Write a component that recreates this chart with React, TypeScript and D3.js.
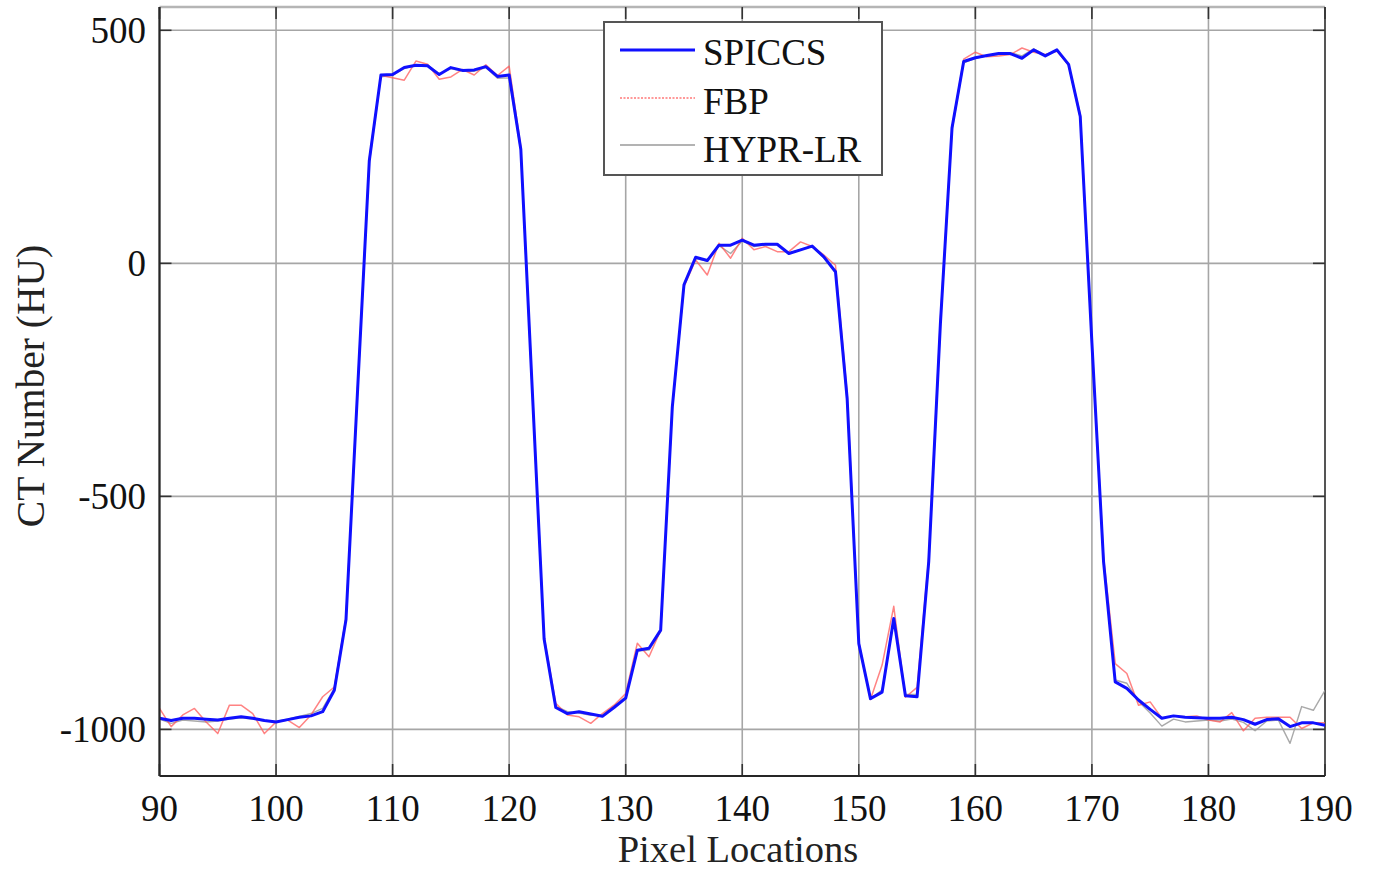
import React from "react";
import * as d3 from "d3";

const xStart = 90;
const spiccs = [
  -976, -981, -976, -976, -978, -980, -976, -973, -976, -981,
  -984, -979, -974, -971, -962, -916, -765, -270, 220, 404,
  405, 420, 425, 424, 405, 420, 414, 415, 422, 401,
  404, 245, -280, -806, -953, -966, -962, -967, -972, -953,
  -933, -830, -826, -787, -308, -46, 13, 6, 39, 39,
  50, 39, 41, 41, 21, 29, 37, 14, -18, -290,
  -816, -934, -920, -762, -928, -930, -640, -130, 291, 433,
  441, 446, 450, 450, 440, 458, 445, 458, 427, 315,
  -170, -640, -898, -912, -937, -957, -976, -971, -974, -975,
  -976, -976, -974, -979, -989, -979, -977, -994, -986, -986,
  -991,
];
const fbp = [
  -955, -994, -969, -955, -984, -1009, -948, -948, -966, -1009,
  -984, -980, -996, -969, -930, -909, -760, -265, 225, 403,
  398, 393, 434, 427, 395, 400, 416, 404, 426, 403,
  423, 250, -275, -801, -944, -969, -973, -987, -966, -948,
  -923, -815, -844, -787, -308, -50, 7, -25, 43, 11,
  54, 29, 36, 25, 25, 46, 36, 18, -4, -279,
  -812, -936, -862, -736, -931, -910, -631, -120, 291, 438,
  453, 443, 445, 448, 462, 453, 448, 455, 426, 320,
  -167, -631, -859, -880, -948, -941, -976, -971, -973, -971,
  -980, -984, -964, -1003, -976, -974, -974, -974, -998, -986,
  -986,
];
const hyprlr = [
  -978, -987, -980, -982, -984, -982, -978, -975, -978, -982,
  -983, -978, -972, -966, -955, -912, -760, -275, 215, 400,
  403, 418, 426, 425, 407, 418, 412, 412, 420, 397,
  398, 240, -285, -810, -950, -962, -965, -970, -970, -950,
  -930, -832, -830, -790, -310, -48, 10, 5, 38, 21,
  48, 36, 40, 40, 22, 30, 36, 12, -20, -295,
  -820, -935, -915, -765, -925, -925, -645, -135, 285, 430,
  440, 445, 448, 452, 445, 460, 447, 457, 425, 312,
  -175, -645, -894, -901, -940, -965, -993, -978, -984, -982,
  -980, -982, -978, -985, -1003, -982, -980, -1030, -951, -959,
  -916,
];
const xTicks = [90, 100, 110, 120, 130, 140, 150, 160, 170, 180, 190];
const yTicks = [-1000, -500, 0, 500];
const seriesNames = ["SPICCS", "FBP", "HYPR-LR"];

const W = 1375;
const H = 871;
const L = 159.5;
const R = 1325;
const T = 7;
const B = 776;
const FONT = "'Liberation Serif', 'Times New Roman', serif";

export default function App() {
  const x = d3.scaleLinear().domain([90, 190]).range([L, R]);
  const y = d3.scaleLinear().domain([-1100, 550]).range([B, T]);
  const toPts = (arr: number[]) => arr.map((v, i) => [xStart + i, v] as [number, number]);
  const line = d3
    .line<[number, number]>()
    .x((d) => x(d[0]))
    .y((d) => y(d[1]));

  return (
    <div style={{ position: "absolute", left: 0, top: 0 }}>
      <svg width={W} height={H} style={{ display: "block", background: "#fff" }}>
        <defs>
          <clipPath id="plotclip">
            <rect x={L} y={T} width={R - L} height={B - T} />
          </clipPath>
        </defs>
        <rect x={0} y={0} width={W} height={H} fill="#fff" />
        {/* grid */}
        {xTicks.map((t) => (
          <line key={"gx" + t} x1={x(t)} x2={x(t)} y1={T} y2={B} stroke="#a6a6a6" strokeWidth={1.6} />
        ))}
        {yTicks.map((t) => (
          <line key={"gy" + t} x1={L} x2={R} y1={y(t)} y2={y(t)} stroke="#a6a6a6" strokeWidth={1.6} />
        ))}
        {/* top/right border */}
        <line x1={L} x2={R} y1={T} y2={T} stroke="#b5b5b5" strokeWidth={2.5} />
        <line x1={R} x2={R} y1={T} y2={B} stroke="#555" strokeWidth={2} />
        {/* ticks */}
        {xTicks.map((t) => (
          <g key={"tx" + t}>
            <line x1={x(t)} x2={x(t)} y1={B} y2={B - 12} stroke="#333" strokeWidth={1.6} />
            <line x1={x(t)} x2={x(t)} y1={T} y2={T + 12} stroke="#333" strokeWidth={1.6} />
          </g>
        ))}
        {yTicks.map((t) => (
          <g key={"ty" + t}>
            <line x1={L} x2={L + 12} y1={y(t)} y2={y(t)} stroke="#333" strokeWidth={1.6} />
            <line x1={R} x2={R - 12} y1={y(t)} y2={y(t)} stroke="#333" strokeWidth={1.6} />
          </g>
        ))}
        {/* data */}
        <g clipPath="url(#plotclip)" fill="none" strokeLinejoin="round">
          <path d={line(toPts(hyprlr)) || ""} stroke="#9a9a9a" strokeWidth={1.4} opacity={0.85} />
          <path d={line(toPts(fbp)) || ""} stroke="#ff5a5a" strokeWidth={1.5} opacity={0.75} />
          <path d={line(toPts(spiccs)) || ""} stroke="#1010ff" strokeWidth={3} />
        </g>
        {/* axes */}
        <line x1={L} x2={L} y1={T} y2={B} stroke="#262626" strokeWidth={2.2} />
        <line x1={L} x2={R} y1={B} y2={B} stroke="#262626" strokeWidth={2.2} />
        {/* tick labels */}
        {xTicks.map((t) => (
          <text key={"lx" + t} x={x(t)} y={821} textAnchor="middle" fontFamily={FONT} fontSize={37} fill="#111">
            {t}
          </text>
        ))}
        {yTicks.map((t) => (
          <text
            key={"ly" + t}
            x={146}
            y={y(t)}
            dy="0.35em"
            textAnchor="end"
            fontFamily={FONT}
            fontSize={37}
            fill="#111"
          >
            {t}
          </text>
        ))}
        {/* axis labels */}
        <text x={738} y={862} textAnchor="middle" fontFamily={FONT} fontSize={38.5} fill="#222">
          Pixel Locations
        </text>
        <text
          transform={`translate(44, 386) rotate(-90)`}
          textAnchor="middle"
          fontFamily={FONT}
          fontSize={39.5}
          fill="#222"
        >
          CT Number (HU)
        </text>
        {/* legend */}
        <g>
          <rect x={604} y={22} width={278} height={153} fill="#fff" stroke="#555" strokeWidth={2} />
          <line x1={620} x2={695} y1={50} y2={50} stroke="#1010ff" strokeWidth={3} />
          <line x1={620} x2={695} y1={98} y2={98} stroke="#ff8080" strokeWidth={2} strokeDasharray="2,1.5" opacity={0.8} />
          <line x1={620} x2={695} y1={145} y2={145} stroke="#9a9a9a" strokeWidth={1.4} />
          {seriesNames.map((n, i) => (
            <text key={n} x={703} y={65 + i * 48.5} fontFamily={FONT} fontSize={37} fill="#111">
              {n}
            </text>
          ))}
        </g>
      </svg>
    </div>
  );
}
